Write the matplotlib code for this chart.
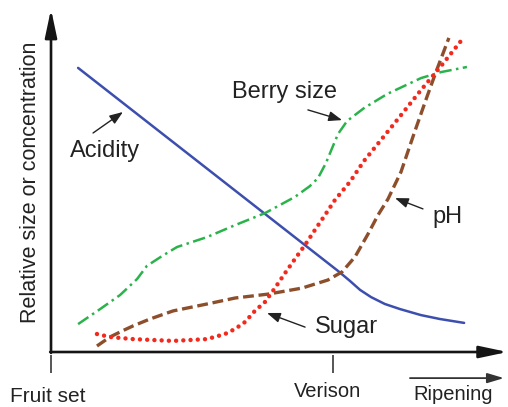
import matplotlib
matplotlib.use("Agg")
import matplotlib.pyplot as plt

plt.rcParams['font.family'] = ['Liberation Sans', 'DejaVu Sans']
plt.rcParams['lines.scale_dashes'] = False

# Time axis: fruit set = 0, veraison = 100. Y: relative size/concentration.
acid_x = [9.6, 101.8, 106.0, 109.6, 113.5, 118.4, 123.8, 131.2, 137.9, 146.5]
acid_y = [94.7, 27.0, 23.7, 20.7, 18.3, 16.0, 14.3, 12.3, 11.0, 9.7]

berry_x = [9.6, 17.4, 24.5, 30.5, 34.0, 39.4, 44.7, 55.3, 65.3, 75.9, 86.5,
           91.8, 94.7, 97.5, 99.7, 101.8, 105.0, 111.0, 119.2, 131.2, 138.3, 147.5]
berry_y = [9.3, 14.3, 19.0, 24.3, 28.7, 32.0, 35.0, 38.3, 42.3, 46.3, 51.7,
           55.3, 58.0, 63.0, 68.0, 72.7, 77.0, 81.3, 86.0, 91.3, 93.3, 95.0]

sugar_x = [16.3, 20.9, 29.1, 43.3, 55.3, 61.7, 65.3, 68.8, 72.3, 75.9, 79.4, 83.0,
           86.5, 90.1, 93.6, 97.2, 100.7, 106.0, 111.0, 121.6, 131.2, 138.3, 146.5]
sugar_y = [6.0, 5.0, 4.3, 3.7, 4.3, 6.0, 7.7, 10.0, 13.7, 16.7, 21.3, 26.3,
           31.0, 35.7, 40.7, 45.7, 50.7, 56.7, 63.7, 76.0, 87.3, 95.3, 105.0]

ph_x = [16.3, 20.9, 25.2, 29.1, 35.1, 43.3, 55.3, 65.3, 77.0, 89.0, 98.2, 103.2,
        107.8, 112.4, 116.0, 119.5, 124.1, 128.7, 133.3, 136.5, 141.1]
ph_y = [2.0, 5.0, 7.0, 8.7, 11.0, 13.7, 16.0, 18.0, 19.3, 21.3, 24.0, 26.7,
        31.7, 39.3, 45.7, 51.0, 60.0, 72.7, 85.0, 93.3, 104.7]

stage_labels = ["Fruit set", "Verison"]
stage_pos = [0, 100]

fig = plt.figure(figsize=(5.08, 4.07), dpi=100)
ax = fig.add_axes([0, 0, 1, 1])
ax.set_xlim(-18.09, 162.06)
ax.set_ylim(-18.33, 117.33)
ax.axis('off')

ink = '#222222'

# axes with arrow heads
axis_arrow = dict(arrowstyle='-|>,head_length=1.7,head_width=0.36', lw=1.9,
                  color='#151515', mutation_scale=10, shrinkA=0, shrinkB=0)
ax.annotate('', xy=(0, 114.3), xytext=(0, -0.3), arrowprops=axis_arrow)
ax.annotate('', xy=(161.9, 0), xytext=(-0.3, 0), arrowprops=axis_arrow)

# stage ticks and labels
for xp in stage_pos:
    ax.plot([xp, xp], [-1.0, -7.0], color='#555555', lw=1.4, solid_capstyle='butt')
ax.text(-14.5, -16.7, stage_labels[0], fontsize=15, color=ink, ha='left', va='baseline')
ax.text(98.2, -15.0, stage_labels[1], fontsize=14.5, color=ink, ha='center', va='baseline')
ax.text(128.4, -16.0, "Ripening", fontsize=14.5, color=ink, ha='left', va='baseline')
ax.annotate('', xy=(160.6, -8.7), xytext=(127.3, -8.7),
            arrowprops=dict(arrowstyle='-|>,head_length=1.0,head_width=0.3', lw=1.3,
                            color='#333333', mutation_scale=10, shrinkA=0, shrinkB=0))

ax.text(-7.1, 56.7, "Relative size or concentration", fontsize=15.5, color=ink,
        rotation=90, ha='center', va='center')

# curves
ax.plot(acid_x, acid_y, color='#3d4fae', lw=1.8, solid_capstyle='round')
ax.plot(berry_x, berry_y, color='#2bb34b', lw=1.8, dashes=(9.0, 3.2, 1.8, 3.2))
ax.plot(ph_x, ph_y, color='#8d4f2b', lw=2.4, dashes=(7.8, 3.4))
ax.plot(sugar_x, sugar_y, color='#f2291c', lw=3.2, dashes=(0.01, 5.2),
        dash_capstyle='round')

# curve labels with pointer arrows
label_arrow = dict(arrowstyle='-|>,head_length=0.8,head_width=0.3', lw=1.0,
                   color=ink, mutation_scale=10, shrinkA=0, shrinkB=0)
labels = [
    ("Acidity", (6.7, 65.0), (25.5, 80.0), (14.9, 73.0)),
    ("Berry size", (64.2, 84.7), (103.2, 77.3), (91.1, 80.7)),
    ("pH", (135.1, 43.0), (122.0, 51.3), (131.9, 47.7)),
    ("Sugar", (93.6, 6.3), (76.6, 13.0), (90.1, 8.3)),
]
for text, pos, tip, tail in labels:
    ax.text(pos[0], pos[1], text, fontsize=17, color=ink, ha='left', va='baseline')
    ax.annotate('', xy=tip, xytext=tail, arrowprops=label_arrow)

fig.savefig('out.png', dpi=100)
